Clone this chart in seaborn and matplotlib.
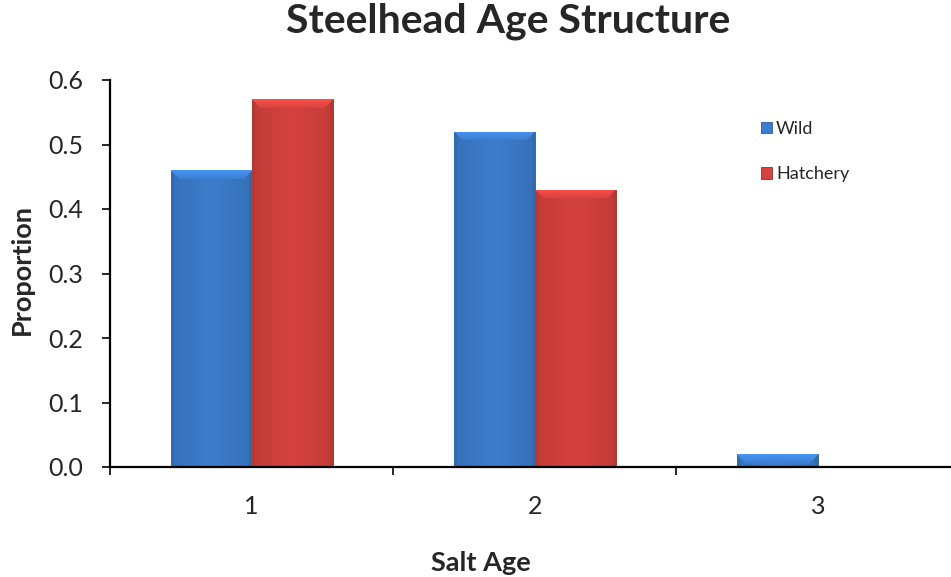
"""
Steelhead age structure - wild vs hatchery proportion by salt age
"""

import pandas as pd
import matplotlib.pyplot as plt
import matplotlib.colors as mcolors
import seaborn as sns
import numpy as np

# data
salt_ages = ['1', '2', '3']
wild = [0.46, 0.52, 0.02]
hatchery = [0.57, 0.43, 0.0]
groups = ['Wild', 'Hatchery']
colors = {'Wild': '#3c7dcd', 'Hatchery': '#d6423e'}
edge_colors = {'Wild': '#2a5d9c', 'Hatchery': '#9e2a28'}

df = pd.DataFrame({
    'Salt Age': salt_ages * 2,
    'Proportion': wild + hatchery,
    'Type': ['Wild'] * len(wild) + ['Hatchery'] * len(hatchery),
})

sns.set_style('white')
plt.rcParams['font.family'] = ['Lato', 'DejaVu Sans']

W, H = 951, 577
fig = plt.figure(figsize=(W / 100, H / 100), dpi=100)
ax = fig.add_axes([110 / W, (H - 467) / H, 849.5 / W, 387 / H])

sns.barplot(data=df, x='Salt Age', y='Proportion', hue='Type', hue_order=groups,
            palette=colors, width=0.572, saturation=1, ax=ax, legend=False)

ax.set_xlim(-0.5, 2.5)
ax.set_ylim(0, 0.6)

# shaded bevel look on the bars
fig.canvas.draw()
n = len(salt_ages)
for i, patch in enumerate(ax.patches[:2 * n]):
    grp = groups[i // n]
    if patch.get_height() <= 0:
        continue
    x0, y0 = patch.get_x(), patch.get_y()
    w, h = patch.get_width(), patch.get_height()
    (px0, py0), (px1, py1) = ax.transData.transform([(x0, y0), (x0 + w, y0 + h)])
    pw, ph = max(int(px1 - px0), 2), max(int(py1 - py0), 2)
    base = np.array(mcolors.to_rgb(colors[grp]))
    xx, yy = np.meshgrid(np.arange(pw), np.arange(ph))
    u = (xx + 0.5) / pw
    shade = 1.0 - 0.10 * np.abs(u - 0.5) * 2
    side = np.minimum(xx, pw - 1 - xx)
    shade = np.where(side < 3, 0.85, shade)
    bev = 9
    top = (yy < bev) & (side >= yy)
    shade = np.where(top, 1.18 - 0.02 * yy, shade)
    img = np.clip(base[None, None, :] * shade[..., None], 0, 1)
    im = ax.imshow(img, extent=(x0, x0 + w, y0, y0 + h), origin='upper', aspect='auto',
                   interpolation='bilinear', zorder=patch.get_zorder() + 0.1)
    im.set_clip_path(patch)
    patch.set_edgecolor(edge_colors[grp])
    patch.set_linewidth(0.6)
ax.set_xlim(-0.5, 2.5)
ax.set_ylim(0, 0.6)

# axes styling
for s in ['top', 'right']:
    ax.spines[s].set_visible(False)
for s in ['left', 'bottom']:
    ax.spines[s].set_color('black')
    ax.spines[s].set_linewidth(1.6)
ax.set_yticks(np.arange(0, 0.61, 0.1))
ax.set_yticklabels([f'{v:.1f}' for v in np.arange(0, 0.61, 0.1)])
ax.tick_params(axis='y', direction='out', length=6, width=1.4, labelsize=18, pad=13, left=True)
ax.set_xticks(range(n))
ax.set_xticklabels(salt_ages)
ax.set_xticks([-0.5, 0.5, 1.5], minor=True)
ax.tick_params(axis='x', which='major', length=0, labelsize=18, pad=20)
ax.tick_params(axis='x', which='minor', direction='out', length=6, width=1.4, bottom=True)

ax.set_xlabel('Salt Age', fontsize=19.5, fontweight='bold', va='top')
ax.xaxis.set_label_coords(0.437, -0.216)
ax.set_ylabel('Proportion', fontsize=19.5, fontweight='bold')
ax.yaxis.set_label_coords(-0.09, 0.51)
fig.suptitle('Steelhead Age Structure', fontsize=29.5, fontweight='bold', x=508 / W, y=1 - 2 / H, va='top')

handles = [plt.Rectangle((0, 0), 1, 1, facecolor=colors[g], edgecolor=edge_colors[g], linewidth=0.6)
           for g in groups]
ax.legend(handles, groups, loc='upper left', bbox_to_anchor=(0.766, 0.894), frameon=False,
          fontsize=13, handlelength=0.6, handleheight=0.6, handletextpad=0.25,
          labelspacing=1.62, borderpad=0, borderaxespad=0)

fig.savefig('out.png', dpi=100)
plt.close(fig)
